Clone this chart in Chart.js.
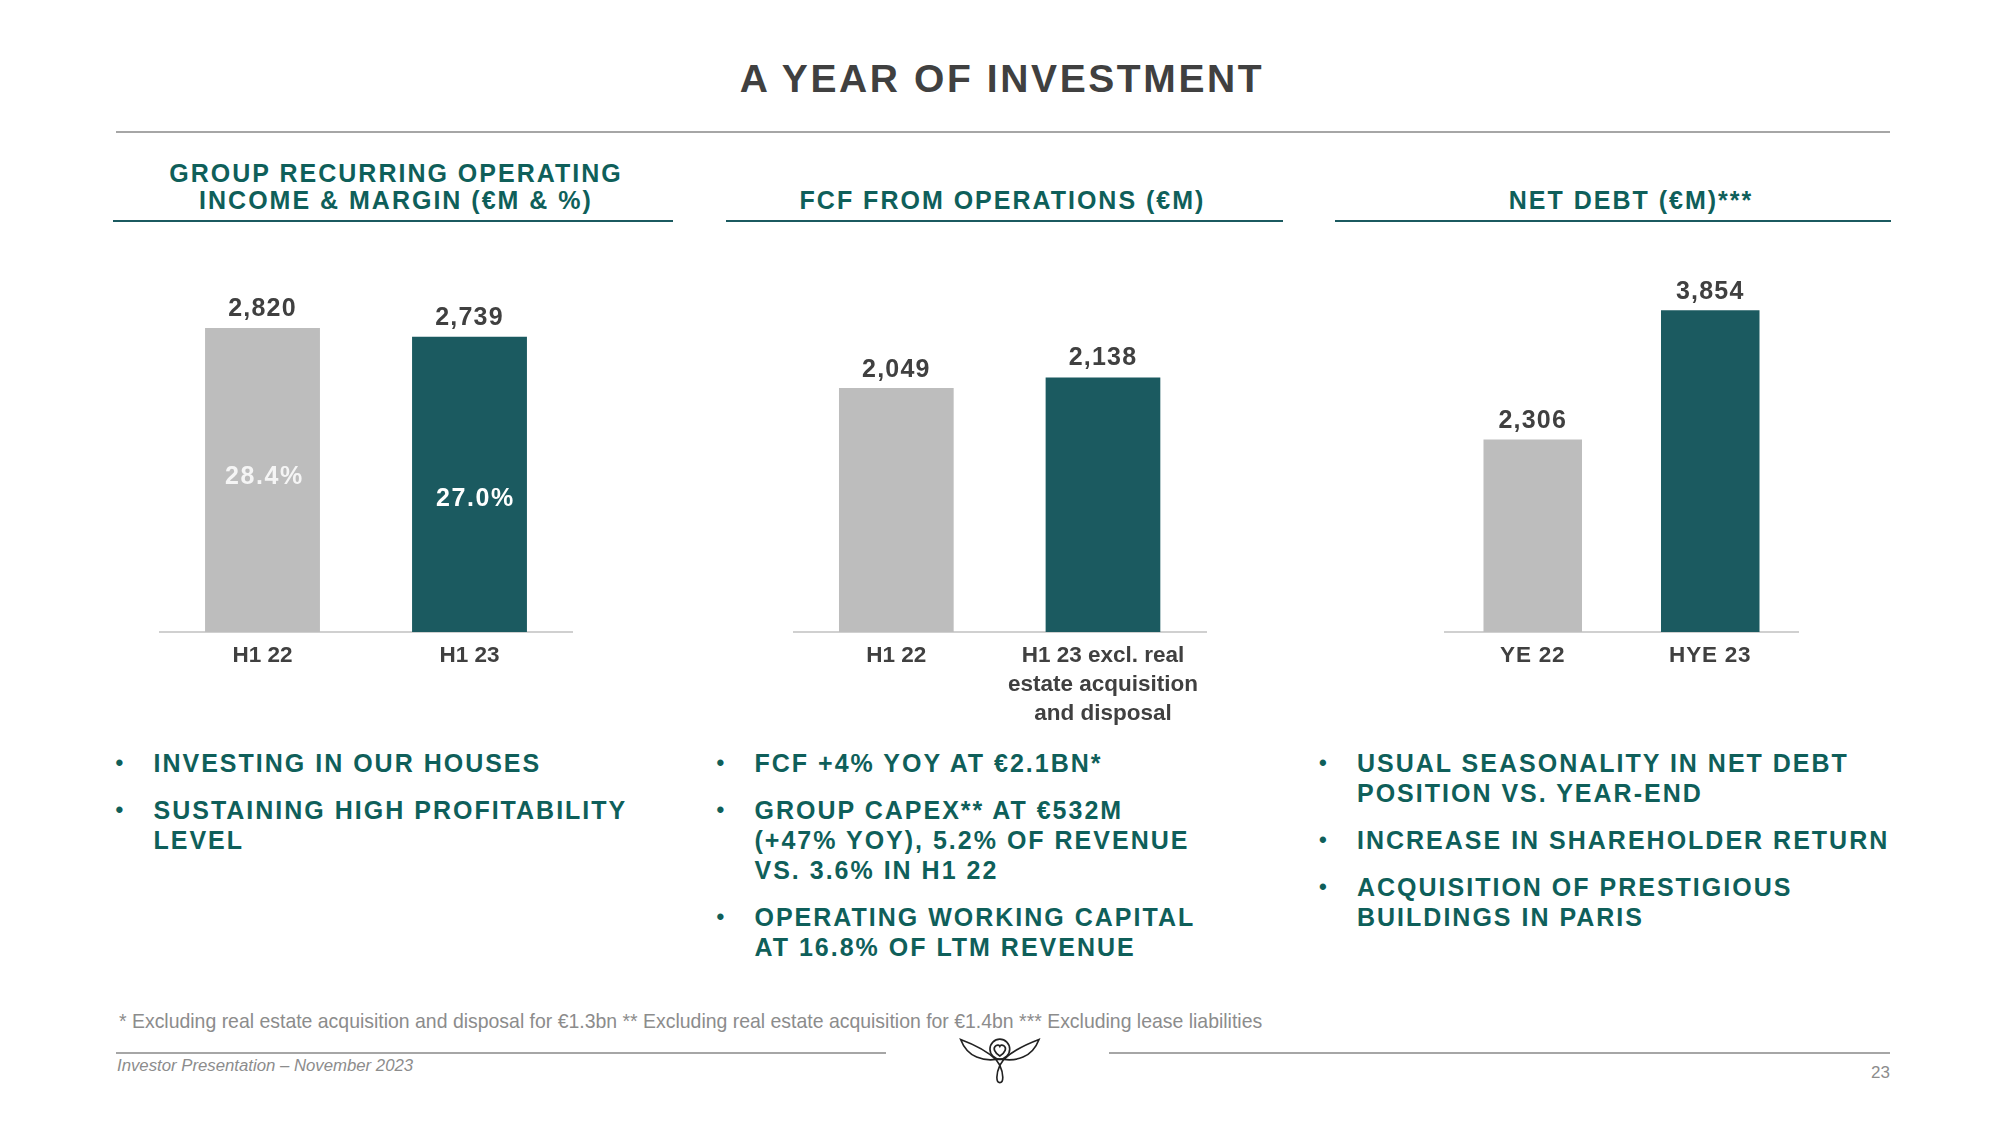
<!DOCTYPE html>
<html>
<head>
<meta charset="utf-8">
<title>A Year of Investment</title>
<script src="https://cdn.jsdelivr.net/npm/chart.js@4"></script>
<style>
  html, body { margin: 0; padding: 0; background: #fff; overflow: hidden; }
  body { width: 2000px; height: 1125px; position: relative; font-family: "Liberation Sans", Arial, sans-serif; }
  .abs { position: absolute; }
  canvas { position: absolute; top: 232px; }
  .rule { position: absolute; height: 2px; background: #a6a6a6; }
  .underline { position: absolute; top: 220px; height: 2px; background: #1b5a60; }
  #title { left: 0; width: 2004px; top: 55px; text-align: center; font-size: 39px; line-height: 48px; font-weight: bold; color: #404040; letter-spacing: 2.6px; }
  .head { text-align: center; font-size: 25px; line-height: 27px; font-weight: bold; color: #0f5f5a; letter-spacing: 2px; }
  .bullets { margin: 0; padding: 0; list-style: none; top: 747.5px; font-size: 25px; line-height: 30px; font-weight: bold; color: #0f5f5a; letter-spacing: 2px; }
  .bullets li { position: relative; margin-bottom: 17px; white-space: nowrap; }
  .bullets li::before { content: "\2022"; position: absolute; left: -38px; letter-spacing: 0; font-size: 22px; }
  #notes { left: 119px; top: 1009px; font-size: 19.45px; line-height: 24px; color: #8c8c8c; white-space: nowrap; }
  #event { left: 117px; top: 1056px; font-size: 16.75px; line-height: 20px; font-style: italic; color: #8c8c8c; white-space: nowrap; }
  #page { right: 110px; top: 1063px; font-size: 17px; line-height: 20px; color: #8c8c8c; }
</style>
</head>
<body>
  <div class="abs" id="title">A YEAR OF INVESTMENT</div>
  <div class="rule" style="left:116px;width:1774px;top:131px"></div>

  <div class="abs head" style="left:116px;width:560px;top:160px">GROUP RECURRING OPERATING<br>INCOME &amp; MARGIN (€M &amp; %)</div>
  <div class="abs head" style="left:724px;width:557px;top:187px">FCF FROM OPERATIONS (€M)</div>
  <div class="abs head" style="left:1353px;width:556px;top:187px">NET DEBT (€M)***</div>
  <div class="underline" style="left:113px;width:560px"></div>
  <div class="underline" style="left:726px;width:557px"></div>
  <div class="underline" style="left:1335px;width:556px"></div>

  <canvas id="incomeChart" width="414" height="500" style="left:159px"></canvas>
  <canvas id="fcfChart" width="414" height="500" style="left:793px"></canvas>
  <canvas id="debtChart" width="355" height="500" style="left:1444px"></canvas>

  <ul class="abs bullets" style="left:153.5px">
    <li>INVESTING IN OUR HOUSES</li>
    <li>SUSTAINING HIGH PROFITABILITY<br>LEVEL</li>
  </ul>
  <ul class="abs bullets" style="left:754.5px">
    <li>FCF +4% YOY AT €2.1BN*</li>
    <li>GROUP CAPEX** AT €532M<br>(+47% YOY), 5.2% OF REVENUE<br>VS. 3.6% IN H1 22</li>
    <li>OPERATING WORKING CAPITAL<br>AT 16.8% OF LTM REVENUE</li>
  </ul>
  <ul class="abs bullets" style="left:1357px">
    <li>USUAL SEASONALITY IN NET DEBT<br>POSITION VS. YEAR-END</li>
    <li>INCREASE IN SHAREHOLDER RETURN</li>
    <li>ACQUISITION OF PRESTIGIOUS<br>BUILDINGS IN PARIS</li>
  </ul>

  <div class="abs" id="notes">* Excluding real estate acquisition and disposal for €1.3bn ** Excluding real estate acquisition for €1.4bn *** Excluding lease liabilities</div>
  <div class="rule" style="left:116px;width:770px;top:1052px"></div>
  <div class="rule" style="left:1109px;width:781px;top:1052px"></div>
  <div class="abs" id="event">Investor Presentation – November 2023</div>
  <div class="abs" id="page">23</div>

  <svg class="abs" style="left:958px;top:1036px" width="84" height="50" viewBox="230 50 255 145" preserveAspectRatio="none" fill="none" stroke="#222" stroke-width="5">
    <path d="M238 60 C280 75 320 95 345 118 C310 122 260 115 238 60 Z"/>
    <path d="M476 60 C434 75 394 95 369 118 C404 122 454 115 476 60 Z"/>
    <ellipse cx="357" cy="88" rx="30" ry="29"/>
    <path d="M357 108 C340 98 335 85 345 78 C350 75 355 76 357 80 C359 76 364 75 369 78 C379 85 374 98 357 108 Z"/>
    <path d="M345 118 L369 118 L357 135 Z"/>
    <path d="M357 135 C345 160 345 185 357 185 C369 185 369 160 357 135 Z"/>
  </svg>

<script>
const incomeLabels = ["H1 22", "H1 23"];
const incomeValues = [2820, 2739];
const marginLabels = ["28.4%", "27.0%"];

const fcfLabels = ["H1 22", ["H1 23 excl. real", "estate acquisition", "and disposal"]];
const fcfValues = [2049, 2138];

const debtLabels = ["YE 22", "HYE 23"];
const debtValues = [2306, 3854];

const grey = "#bdbdbd";
const teal = "#1b5a60";
const dark = "#404040";
const fontName = '"Liberation Sans", Arial, sans-serif';

// value above each bar, plus the margin inside the bar on the first chart
const barTexts = {
  id: "barTexts",
  beforeDraw(chart, args, opts) {
    // tick labels on the net debt chart are slightly spaced out
    chart.ctx.letterSpacing = opts.tickSpacing || "0px";
  },
  afterDatasetsDraw(chart, args, opts) {
    const c = chart.ctx;
    const bars = chart.getDatasetMeta(0).data;
    c.save();
    c.textAlign = "center";
    bars.forEach((bar, i) => {
      c.textBaseline = "alphabetic";
      c.font = "bold 25px " + fontName;
      c.letterSpacing = "1.2px";
      c.fillStyle = dark;
      const v = chart.data.datasets[0].data[i];
      c.fillText(v.toLocaleString("en-US"), bar.x, bar.y - opts.labelGap[i]);
      if (opts.inner) {
        c.textBaseline = "middle";
        c.letterSpacing = "1.6px";
        c.fillStyle = opts.innerColors[i];
        c.fillText(opts.inner[i], bar.x + opts.innerDx[i], (bar.y + bar.base) / 2 + opts.innerDy[i]);
      }
    });
    c.restore();
  }
};

const makeChart = (id, labels, values, yMax, textOpts) => {
  return new Chart(document.getElementById(id), {
    type: "bar",
    data: {
      labels: labels,
      datasets: [{
        data: values,
        backgroundColor: [grey, teal],
        categoryPercentage: 1,
        barPercentage: 0.555
      }]
    },
    options: {
      responsive: false,
      animation: false,
      layout: { padding: 0 },
      plugins: {
        legend: { display: false },
        title: { display: false },
        tooltip: { enabled: false },
        barTexts: textOpts
      },
      scales: {
        x: {
          grid: { display: false, drawTicks: false },
          border: { color: "#d0d0d0", width: 2 },
          afterFit: (s) => { s.height = 100; },
          ticks: {
            color: dark,
            padding: 9,
            maxRotation: 0,
            autoSkip: false,
            font: { family: fontName, size: 22.5, weight: "bold", lineHeight: 1.3 }
          }
        },
        y: { display: false, min: 0, max: yMax }
      }
    },
    plugins: [barTexts]
  });
};

makeChart("incomeChart", incomeLabels, incomeValues, 3710, {
  labelGap: [12, 12],
  inner: marginLabels,
  innerColors: ["#f5f5f5", "#ffffff"],
  innerDx: [2, 6],
  innerDy: [-3, 15]
});
makeChart("fcfChart", fcfLabels, fcfValues, 3360, { labelGap: [11, 12] });
makeChart("debtChart", debtLabels, debtValues, 4790, { labelGap: [11, 11], tickSpacing: "0.8px" });
</script>
</body>
</html>
